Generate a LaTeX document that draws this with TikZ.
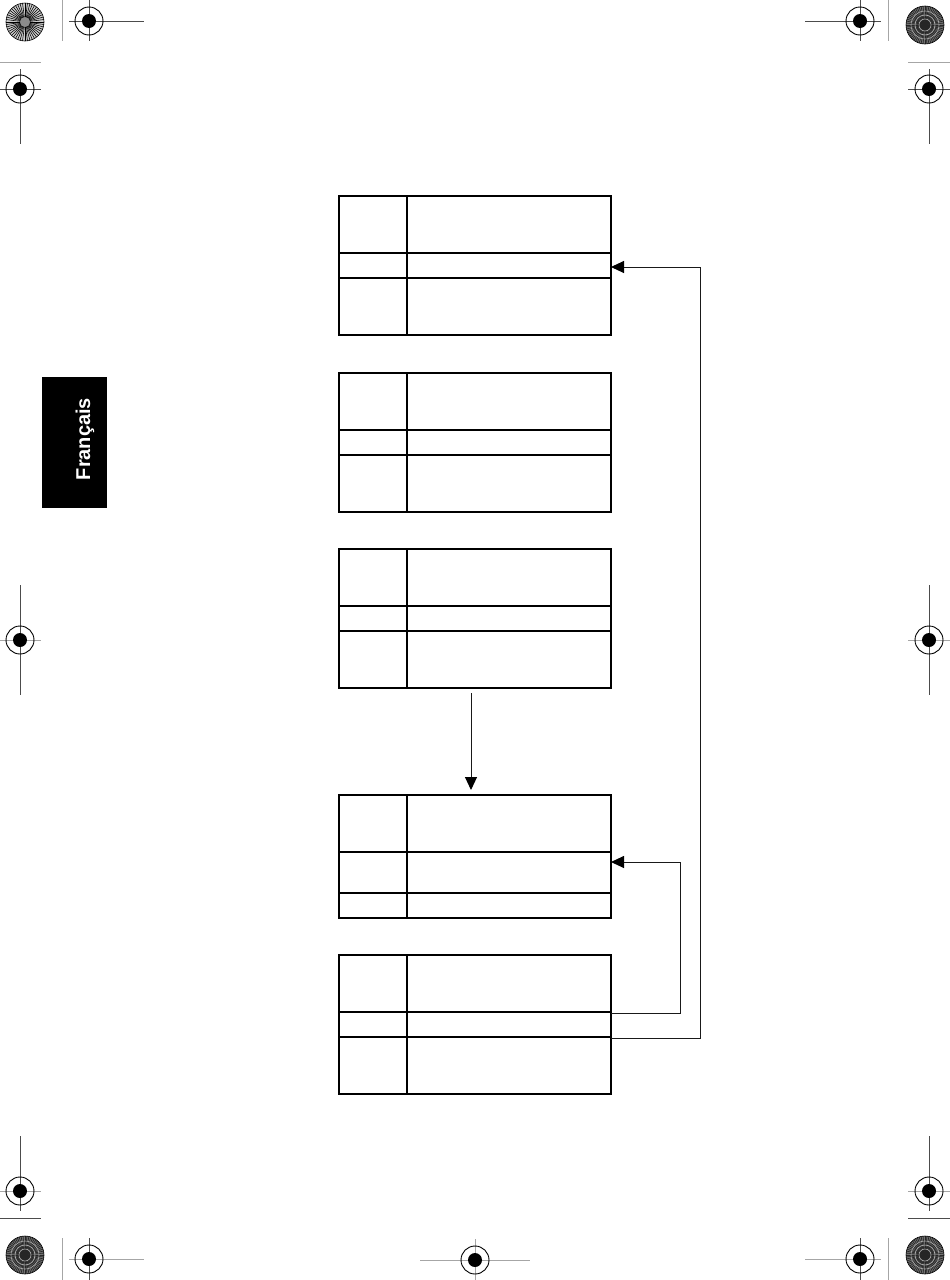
\documentclass[tikz,border=0pt]{standalone}
\usepackage{fontspec}
\setsansfont{Liberation Sans}
\usetikzlibrary{arrows.meta}
\begin{document}
\begin{tikzpicture}[x=1pt,y=-1pt,
  tbl/.style={draw, line width=1.2pt, inner sep=0pt, outer sep=0pt, anchor=north west, minimum width=272pt},
  rowrule/.style={line width=1.2pt},
  conn/.style={line width=1pt, black!90, -{Triangle[length=13pt,width=12pt,color=black]}},
  regline/.style={line width=0.9pt, black!70},
  reggray/.style={line width=0.9pt, black!35},
  target/.pic={\draw[line width=0.9pt] (0,0) circle (14pt); \fill (0,0) circle (7pt);},
  starA/.pic={\fill[black!20] (0,0) circle (19pt);
    \foreach \a in {0,7.5,...,352.5} \draw[line width=0.55pt] (0,0) -- (\a:19);
    \fill[black!45] (0,0) circle (5pt);
    \draw[line width=0.6pt] (0,0) circle (19pt);},
  starB/.pic={\fill[black!55] (0,0) circle (19pt);
    \foreach \a in {0,6,...,354} \draw[line width=0.7pt, black!85] (0,0) -- (\a:19);
    \foreach \r in {6,10,14} \draw[line width=0.6pt, black!30] (0,0) circle (\r pt);
    \draw[line width=0.6pt] (0,0) circle (19pt);},
  ]
\useasboundingbox (0,0) rectangle (950,1280);
% ---------- registration marks ----------
% top left
\pic at (25,22) {starA};
\draw[reggray] (62,0) -- (62,41);
\draw[reggray] (0,62) -- (41,62);
\draw[regline] (69,21) -- (144,21); \draw[regline] (89,0) -- (89,41);
\pic at (89,21) {target};
\draw[regline] (0,89) -- (41,89); \draw[regline] (20,69) -- (20,144);
\pic at (20,89) {target};
% top right
\pic at (925,25) {starB};
\draw[reggray] (888,0) -- (888,41);
\draw[reggray] (908,62) -- (950,62);
\draw[regline] (805,21) -- (881,21); \draw[regline] (860,0) -- (860,41);
\pic at (860,21) {target};
\draw[regline] (908,89) -- (950,89); \draw[regline] (929,69) -- (929,144);
\pic at (929,89) {target};
% middle left / right
\draw[reggray] (0,640) -- (41,640); \draw[regline] (20,585) -- (20,695);
\pic at (20,640) {target};
\draw[reggray] (908,640) -- (950,640); \draw[regline] (929,585) -- (929,695);
\pic at (929,640) {target};
% bottom left
\draw[regline] (20,1136) -- (20,1211); \draw[reggray] (0,1191) -- (41,1191);
\pic at (20,1191) {target};
\draw[regline] (0,1218) -- (41,1218);
\pic at (25,1255) {starB};
\draw[reggray] (62,1238) -- (62,1280);
\draw[reggray] (69,1259) -- (144,1259); \draw[regline] (89,1238) -- (89,1280);
\pic at (89,1259) {target};
% bottom centre
\draw[reggray] (420,1260) -- (530,1260); \draw[reggray] (475,1239) -- (475,1280);
\pic at (475,1260) {target};
% bottom right
\draw[regline] (929,1136) -- (929,1211); \draw[reggray] (908,1191) -- (950,1191);
\pic at (929,1191) {target};
\draw[regline] (908,1218) -- (950,1218);
\pic at (925,1255) {starB};
\draw[reggray] (888,1238) -- (888,1280);
\draw[reggray] (805,1259) -- (881,1259); \draw[regline] (860,1238) -- (860,1280);
\pic at (860,1259) {target};
% ---------- language tab ----------
\fill[black] (42,377) rectangle (107,508);
\node[rotate=90, text=white, inner sep=0pt, font=\sffamily\bfseries\fontsize{20}{20}\selectfont] (tab) at (85,439) {Français};
% ---------- tables ----------
\foreach \n/\t in {1/196,2/373,3/549,5/955}{
  \node[tbl, minimum height=139pt] (T\n) at (339,\t) {};
  \draw[rowrule] (339,\t+57) -- (611,\t+57);
  \draw[rowrule] (339,\t+82) -- (611,\t+82);
  \draw[rowrule] (407,\t) -- (407,\t+139);
}
\node[tbl, minimum height=123pt] (T4) at (339,795) {};
\draw[rowrule] (339,852) -- (611,852);
\draw[rowrule] (339,893) -- (611,893);
\draw[rowrule] (407,795) -- (407,918);
% ---------- connectors ----------
\coordinate (c3) at (471,693);
\coordinate (c4) at (471,790);
\draw[conn] (c3) -- (c4);
\coordinate (o5a) at (611,1013);
\coordinate (i4) at (611,862);
\draw[conn] (o5a) -- (680,1013) -- (680,862) -- (i4);
\coordinate (o5b) at (611,1038);
\coordinate (i1) at (611,267);
\draw[conn] (o5b) -- (700,1038) -- (700,267) -- (i1);
\end{tikzpicture}
\end{document}
